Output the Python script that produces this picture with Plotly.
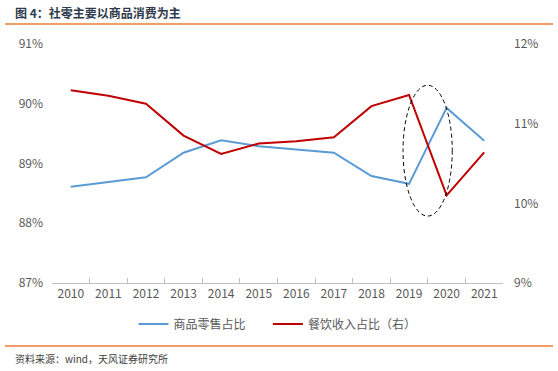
import plotly.graph_objects as go

years = [str(y) for y in range(2010, 2022)]
goods_share = [88.61, 88.69, 88.77, 89.18, 89.39, 89.29, 89.24, 89.18, 88.79, 88.66, 89.93, 89.38]
catering_share = [11.42, 11.35, 11.25, 10.85, 10.62, 10.75, 10.78, 10.83, 11.22, 11.36, 10.10, 10.64]
left_ticks = [87, 88, 89, 90, 91]
right_ticks = [9, 10, 11, 12]

FONT = "Noto Sans CJK SC, Noto Sans, sans-serif"
GRAY = "#595959"
PW, PH = 451, 239  # plot area size in px

fig = go.Figure()
fig.add_trace(go.Scatter(x=years, y=goods_share, mode="lines", name="商品零售占比\u3000\u00a0\u00a0",
                         line=dict(color="#5B9BD5", width=2)))
fig.add_trace(go.Scatter(x=years, y=catering_share, mode="lines", name="餐饮收入占比（右）",
                         line=dict(color="#C00000", width=2), yaxis="y2"))

fig.update_layout(
    width=558, height=371,
    margin=dict(l=52, r=55, t=44, b=88),
    paper_bgcolor="white", plot_bgcolor="white",
    font=dict(family=FONT, size=12, color=GRAY),
    showlegend=True,
    legend=dict(orientation="h", x=0.5, xanchor="center", y=-41/PH, yanchor="middle",
                font=dict(size=12, color=GRAY), itemwidth=30, tracegroupgap=0),
    xaxis=dict(type="category", showgrid=False, showline=True, linecolor="#BFBFBF",
               ticks="inside", ticklen=5, tickcolor="#BFBFBF", tickson="boundaries",
               tickfont=dict(size=12, color=GRAY), range=[-0.5, 11.5]),
    yaxis=dict(range=[87, 91], tickvals=left_ticks, ticktext=[f"{v}%" for v in left_ticks],
               showgrid=False, zeroline=False, showline=False, ticks="",
               tickfont=dict(size=12, color=GRAY), ticklabelstandoff=8),
    yaxis2=dict(range=[9, 12], tickvals=right_ticks, ticktext=[f"{v}%" for v in right_ticks],
                overlaying="y", side="right", showgrid=False, zeroline=False, showline=False,
                ticks="", tickfont=dict(size=12, color=GRAY), ticklabelstandoff=10),
)

# dashed ellipse highlighting 2019-2020
fig.add_shape(type="circle", xref="x", yref="y", x0=8.84, x1=10.15, y0=88.12, y1=90.31,
              line=dict(color="#000000", width=1, dash="4px,3px"))

# title and decorative lines
fig.add_annotation(text="<b>图 4：社零主要以商品消费为主</b>", xref="paper", yref="paper",
                   x=-39/PW, y=1 + (44-12)/PH, xanchor="left", yanchor="middle",
                   showarrow=False, font=dict(size=12, color="#2F3B4C", family=FONT))
fig.add_shape(type="line", xref="paper", yref="paper", x0=-47/PW, x1=(553-52)/PW,
              y0=1 + (44-24)/PH, y1=1 + (44-24)/PH, line=dict(color="#ED7D31", width=1.5))
fig.add_shape(type="line", xref="paper", yref="paper", x0=-47/PW, x1=(553-52)/PW,
              y0=-(346-283)/PH, y1=-(346-283)/PH, line=dict(color="#ED7D31", width=1.5))
fig.add_annotation(text="资料来源：wind，天风证券研究所", xref="paper", yref="paper",
                   x=-39/PW, y=-(358-283)/PH, xanchor="left", yanchor="middle",
                   showarrow=False, font=dict(size=10, color="#404040", family=FONT))

fig.write_html("out.html", config={"displayModeBar": False},
               post_script="document.body.style.margin='0px';document.body.style.padding='0px';")
